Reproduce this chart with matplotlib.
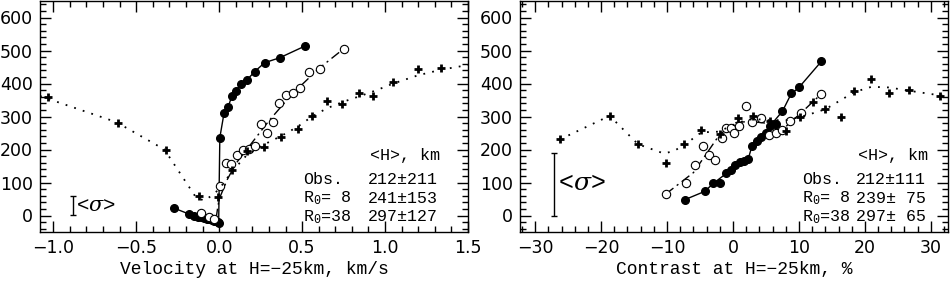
import matplotlib
matplotlib.use("Agg")
import matplotlib.pyplot as plt
from matplotlib.ticker import MultipleLocator

# ---- left panel: velocity ----
v_obs_x = [-0.27, -0.18, -0.15, -0.13, -0.11, -0.09, -0.075, -0.06, -0.045, -0.03, -0.02, -0.01, -0.003,
           0.004, 0.03, 0.054, 0.076, 0.10, 0.13, 0.166, 0.214, 0.274, 0.365, 0.515]
v_obs_y = [22, 4, -1, -4, -6, -8, -10, -12, -14, -16, -18, -20, -22,
           236, 312, 329, 361, 376, 398, 410, 436, 463, 478, 513]

v_r8_x = [-0.11, -0.06, -0.03, 0.004, 0.04, 0.074, 0.106, 0.146, 0.18, 0.214, 0.25, 0.286, 0.323,
          0.36, 0.403, 0.445, 0.489, 0.539, 0.609, 0.753]
v_r8_y = [8, -4, -10, 88, 160, 155, 184, 197, 202, 212, 277, 249, 284,
          342, 366, 372, 386, 435, 445, 505]
v_r8_cx = [-0.12, -0.06, -0.02, -0.01, 0.0, 0.05, 0.1, 0.2, 0.3, 0.4, 0.5, 0.6, 0.75]
v_r8_cy = [6, -5, -15, 20, 50, 110, 157, 222, 287, 345, 397, 445, 505]

v_r38_x = [-1.03, -0.61, -0.32, -0.124, -0.006, 0.08, 0.17, 0.27, 0.37, 0.475, 0.56, 0.65,
           0.74, 0.84, 0.93, 1.05, 1.2, 1.34]
v_r38_y = [359, 281, 197, 58, 56, 139, 194, 209, 237, 261, 302, 347,
           339, 370, 362, 405, 444, 447]
v_r38_cx = [-1.08, -0.62, -0.33, -0.14, -0.09, -0.04, 0.0, 0.08, 0.17, 0.27, 0.37, 0.47, 0.56,
            0.65, 0.75, 0.85, 0.95, 1.05, 1.2, 1.34, 1.5]
v_r38_cy = [362, 283, 200, 55, 45, 62, 80, 135, 185, 215, 240, 268, 300,
            325, 345, 362, 380, 400, 425, 442, 456]

# ---- right panel: contrast ----
c_obs_x = [-7.3, -4.3, -3.0, -1.9, -1.1, -0.35, 0.3, 1.07, 1.67, 2.3, 2.9, 3.6, 4.26, 4.97,
           5.6, 6.5, 7.5, 8.8, 10.0, 13.4]
c_obs_y = [48, 73, 98, 100, 129, 139, 154, 161, 166, 171, 212, 227, 239, 251,
           271, 276, 316, 370, 388, 467]
c_obs_cx = [-7.3, -4.3, -3.0, -1.5, 0.0, 2.3, 2.9, 5.6, 7.5, 8.8, 10.0, 13.4]
c_obs_cy = [48, 73, 97, 120, 150, 171, 212, 271, 316, 368, 388, 467]

c_r8_x = [-10.2, -7.2, -5.7, -4.6, -3.6, -2.7, -1.7, -1.07, -0.35, 0.2, 0.96, 2.0, 2.9, 4.2,
          5.4, 6.5, 7.5, 8.7, 10.3, 13.3]
c_r8_y = [65, 98, 152, 211, 182, 167, 236, 266, 266, 249, 271, 331, 284, 294,
          244, 251, 259, 286, 312, 367]
c_r8_cx = [-10.2, -6.0, -2.0, 0.5, 2.6, 5.4, 6.5, 7.6, 10.7, 13.3]
c_r8_cy = [65, 130, 246, 282, 285, 279, 262, 262, 318, 367]

c_r38_x = [-26.2, -18.7, -14.4, -10.2, -7.4, -4.8, -2.0, 0.8, 3.1, 5.6, 8.0, 10.1, 12.1, 14.0,
           16.3, 18.4, 20.9, 23.7, 26.7, 31.4]
c_r38_y = [231, 302, 216, 160, 217, 259, 247, 294, 302, 287, 257, 299, 344, 324,
           299, 377, 413, 371, 379, 362]
c_r38_cx = [-26.2, -18.7, -14.4, -10.5, -9.0, -7.3, -4.8, -2.2, 1.0, 3.1, 5.1, 8.2, 11.2, 14.0,
            18.4, 21.0, 23.7, 26.7, 31.4, 33.0]
c_r38_cy = [231, 302, 216, 188, 195, 215, 252, 254, 283, 293, 289, 289, 304, 322,
            374, 390, 388, 378, 364, 362]

v_sigma = [3, 58]
c_sigma = [0, 190]

rows = ["Obs.", "R$_0$= 8", "R$_0$=38"]
v_vals = ["212\u00b1211", "241\u00b1153", "297\u00b1127"]
c_vals = ["212\u00b1111", "239\u00b1 75", "297\u00b1 65"]

txt_font = 'Liberation Mono'
plt.rcParams['font.family'] = 'DejaVu Sans'
plt.rcParams['mathtext.fontset'] = 'custom'
plt.rcParams['mathtext.rm'] = txt_font
plt.rcParams['mathtext.it'] = 'DejaVu Serif:italic'

fig = plt.figure(figsize=(9.5, 2.84), dpi=100)
ax1 = fig.add_axes([40/950, 1-232/284, 428/950, 231/284])
ax2 = fig.add_axes([520/950, 1-232/284, 428/950, 231/284])

dashdot = (0, (7, 3, 1.5, 3))
dot = (0, (1, 4))


def style(ax, xmin, xmax, xmaj, xmin_step):
    ax.set_xlim(xmin, xmax)
    ax.set_ylim(-50, 650)
    ax.xaxis.set_major_locator(MultipleLocator(xmaj))
    ax.xaxis.set_minor_locator(MultipleLocator(xmin_step))
    ax.yaxis.set_major_locator(MultipleLocator(100))
    ax.yaxis.set_minor_locator(MultipleLocator(20))
    ax.tick_params(which='both', direction='in', top=True, right=True, labelsize=12.5, width=1, pad=5)
    ax.tick_params(which='major', length=8)
    ax.tick_params(which='minor', length=4)
    for s in ax.spines.values():
        s.set_linewidth(1)


def panel(ax, ox, oy, cx_o, cy_o, rx, ry, cx8, cy8, px, py, cx38, cy38):
    ax.plot(cx_o, cy_o, '-', color='k', lw=1)
    ax.plot(ox, oy, 'o', color='k', ms=5.5)
    ax.plot(cx8, cy8, linestyle=dashdot, color='k', lw=1)
    ax.plot(rx, ry, 'o', mfc='white', mec='k', mew=0.8, ms=6)
    ax.plot(cx38, cy38, linestyle=dot, color='k', lw=1.3)
    ax.plot(px, py, '+', color='k', ms=6, mew=2)


def table(ax, x0, x1, vals):
    ax.text(x1, 0.333, "<H>, km", transform=ax.transAxes, family=txt_font, fontsize=12, va='center')
    for i, (r, v) in enumerate(zip(rows, vals)):
        y = 0.229 - i * 0.082
        ax.text(x0, y, r, transform=ax.transAxes, family=txt_font, fontsize=12, va='center')
        ax.text(x1 - 0.005, y, v, transform=ax.transAxes, family=txt_font, fontsize=12, va='center')


# left
style(ax1, -1.08, 1.5, 0.5, 0.1)
panel(ax1, v_obs_x, v_obs_y, v_obs_x, v_obs_y, v_r8_x, v_r8_y, v_r8_cx, v_r8_cy,
      v_r38_x, v_r38_y, v_r38_cx, v_r38_cy)
ax1.errorbar([-0.88], [sum(v_sigma)/2], yerr=[(v_sigma[1]-v_sigma[0])/2], color='k', lw=1, capsize=2.5)
ax1.text(-0.86, sum(v_sigma)/2, r"<$\sigma$>", family=txt_font, fontsize=15, va='center')
ax1.set_xlabel("Velocity at H=\u221225km, km/s", family=txt_font, fontsize=13, labelpad=3)
table(ax1, 0.615, 0.771, v_vals)

# right
style(ax2, -32.3, 32.6, 10, 2)
panel(ax2, c_obs_x, c_obs_y, c_obs_cx, c_obs_cy, c_r8_x, c_r8_y, c_r8_cx, c_r8_cy,
      c_r38_x, c_r38_y, c_r38_cx, c_r38_cy)
ax2.errorbar([-27.2], [sum(c_sigma)/2], yerr=[(c_sigma[1]-c_sigma[0])/2], color='k', lw=1, capsize=2.5)
ax2.text(-26.6, 99, r"<$\sigma$>", family=txt_font, fontsize=18, va='center')
ax2.set_xlabel("Contrast at H=\u221225km, %", family=txt_font, fontsize=13, labelpad=3)
table(ax2, 0.659, 0.79, c_vals)

fig.savefig("out.png", dpi=100)
